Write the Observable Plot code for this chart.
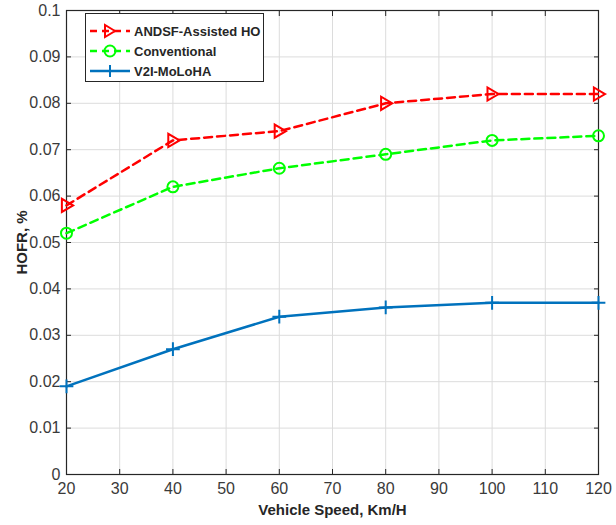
<!DOCTYPE html>
<html>
<head>
<meta charset="utf-8">
<script src="https://cdn.jsdelivr.net/npm/d3@7"></script>
<script src="https://cdn.jsdelivr.net/npm/@observablehq/plot@0.6"></script>
<style>
  html, body { margin: 0; padding: 0; background: #fff; }
  #wrap { position: relative; width: 616px; height: 525px; }
  #legend { position: absolute; left: 85px; top: 13px; width: 179px; height: 69px;
    border: 1px solid #262626; background: #fff; box-sizing: border-box;
    font-family: "Liberation Sans", Arial, sans-serif; font-weight: bold; font-size: 13px; color: #262626; }
  .row { position: absolute; left: 0; height: 20px; display: flex; align-items: center; }
  .row svg { display: block; }
  .row span { margin-left: 2px; white-space: nowrap; }
</style>
</head>
<body>
<div id="wrap"></div>
<script>
const speeds = [20, 40, 60, 80, 100, 120];
const andsf = [0.058, 0.072, 0.074, 0.080, 0.082, 0.082];
const conventional = [0.052, 0.062, 0.066, 0.069, 0.072, 0.073];
const v2i = [0.019, 0.027, 0.034, 0.036, 0.037, 0.037];
const seriesNames = ["ANDSF-Assisted HO", "Conventional", "V2I-MoLoHA"];
const xTicks = [20, 30, 40, 50, 60, 70, 80, 90, 100, 110, 120];
const yTicks = [0, 0.01, 0.02, 0.03, 0.04, 0.05, 0.06, 0.07, 0.08, 0.09, 0.1];

const red = "#ff0000", green = "#00ff00", blue = "#0072bd";

const triangleRight = {
  draw(ctx, size) {
    const r = Math.sqrt(size) * 0.62;
    ctx.moveTo(r, 0);
    ctx.lineTo(-r * 0.7, -r);
    ctx.lineTo(-r * 0.7, r);
    ctx.closePath();
  }
};

const mk = (vals) => speeds.map((s, i) => ({ s, v: vals[i] }));
const dA = mk(andsf), dC = mk(conventional), dV = mk(v2i);

const font = "'Liberation Sans Narrow', 'Arial Narrow', 'Liberation Sans', Arial, sans-serif";

const chart = Plot.plot({
  width: 616,
  height: 525,
  marginLeft: 66,
  marginRight: 18,
  marginTop: 10,
  marginBottom: 51,
  style: { fontFamily: font, fontSize: "16px", color: "#3a3a3a", background: "#fff" },
  x: { domain: [20, 120], ticks: xTicks },
  y: { domain: [0, 0.1], ticks: yTicks },
  marks: [
    Plot.gridX(xTicks, { stroke: "#dcdcdc", strokeOpacity: 1, strokeWidth: 1 }),
    Plot.gridY(yTicks, { stroke: "#dcdcdc", strokeOpacity: 1, strokeWidth: 1 }),
    Plot.axisX(xTicks, { tickSize: -5, tickPadding: 13, stroke: "#262626", label: "Vehicle Speed, Km/H",
      labelAnchor: "center", labelArrow: "none", labelOffset: 40, fontSize: 16 }),
    Plot.axisX(xTicks, { anchor: "top", tickSize: -5, tickFormat: () => "", stroke: "#262626", label: null }),
    Plot.axisY(yTicks, { tickSize: -5, tickPadding: 11, stroke: "#262626", label: "HOFR, %",
      tickFormat: d => String(d),
      labelAnchor: "center", labelArrow: "none", labelOffset: 50, fontSize: 16 }),
    Plot.axisY(yTicks, { anchor: "right", tickSize: -5, tickFormat: () => "", stroke: "#262626", label: null }),
    Plot.frame({ stroke: "#262626", strokeWidth: 1.2 }),
    Plot.line(dA, { x: "s", y: "v", stroke: red, strokeWidth: 2.5, strokeDasharray: "8,5" }),
    Plot.line(dC, { x: "s", y: "v", stroke: green, strokeWidth: 2.5, strokeDasharray: "8,5" }),
    Plot.line(dV, { x: "s", y: "v", stroke: blue, strokeWidth: 2.5 }),
    Plot.dot(dA, { x: "s", y: "v", symbol: triangleRight, r: 6, stroke: red, fill: "none", strokeWidth: 2 }),
    Plot.dot(dC, { x: "s", y: "v", symbol: "circle", r: 5.5, stroke: green, fill: "none", strokeWidth: 2 }),
    Plot.dot(dV, { x: "s", y: "v", symbol: "plus", r: 4.5, stroke: blue, fill: "none", strokeWidth: 2 })
  ]
});

d3.select(chart).selectAll("g[aria-label$='axis label'] text")
  .style("font-weight", "bold").style("font-size", "15px").style("fill", "#262626");

const wrap = document.getElementById("wrap");
wrap.appendChild(chart);

// Legend
const legend = document.createElement("div");
legend.id = "legend";
const samples = [
  { color: red, dash: "7,5", marker: "tri" },
  { color: green, dash: "7,5", marker: "circle" },
  { color: blue, dash: null, marker: "plus" }
];
seriesNames.forEach((name, i) => {
  const row = document.createElement("div");
  row.className = "row";
  row.style.top = (7 + i * 20) + "px";
  const s = samples[i];
  let m = "";
  if (s.marker === "tri") m = `<path d="M29,10 L19,4 L19,16 Z" fill="none" stroke="${s.color}" stroke-width="2"/>`;
  if (s.marker === "circle") m = `<circle cx="24" cy="10" r="5.5" fill="none" stroke="${s.color}" stroke-width="2"/>`;
  if (s.marker === "plus") m = `<path d="M24,4 V16 M18,10 H30" stroke="${s.color}" stroke-width="2"/>`;
  row.innerHTML = `<svg width="46" height="20"><line x1="4" x2="44" y1="10" y2="10" stroke="${s.color}" stroke-width="2.5" ${s.dash ? `stroke-dasharray="${s.dash}"` : ""}/>${m}</svg><span>${name}</span>`;
  legend.appendChild(row);
});
wrap.appendChild(legend);
</script>
</body>
</html>
